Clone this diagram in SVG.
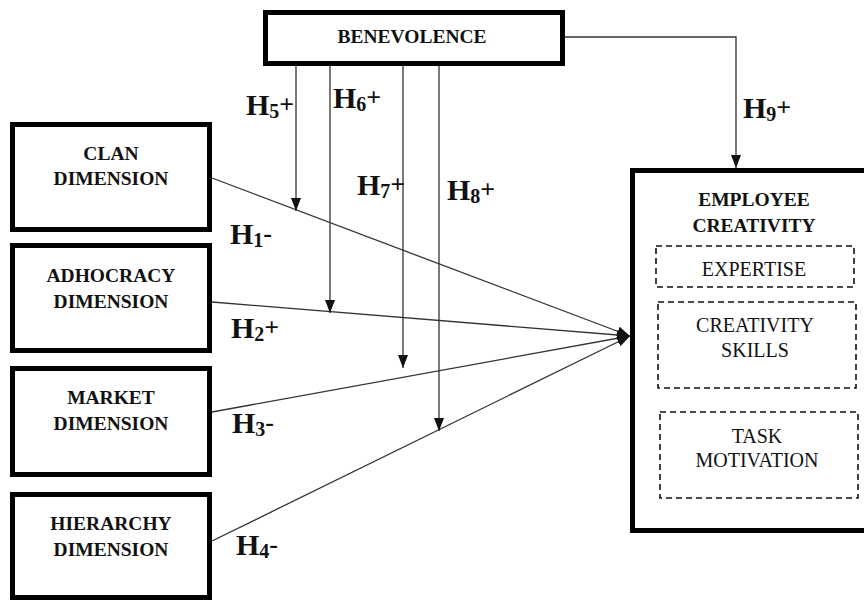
<svg xmlns="http://www.w3.org/2000/svg" width="864" height="601" viewBox="0 0 864 601">
<style>
.box{fill:#fff;stroke:#000;stroke-width:5}
.dash{fill:none;stroke:#111;stroke-width:1.6;stroke-dasharray:6 4}
text{font-family:'Liberation Serif','Times New Roman','DejaVu Serif',serif;fill:#111}
.t{font-weight:bold;font-size:19.5px;text-anchor:middle}
.r{font-size:20px;text-anchor:middle}
.h{font-weight:bold;font-size:30px}
.s{font-size:20px}
.p{font-size:26px}
.c{fill:none;stroke:#333;stroke-width:1.3}
</style>
<defs>
<marker id="ah" markerUnits="userSpaceOnUse" markerWidth="13" markerHeight="10" refX="13" refY="5" orient="auto">
<path d="M0,0 L13,5 L0,10 z" fill="#111"/>
</marker>
</defs>
<rect width="864" height="601" fill="#fff"/>
<g id="connectors">
<line class="c" x1="212" y1="178" x2="630" y2="336" marker-end="url(#ah)"/>
<line class="c" x1="212" y1="302" x2="630" y2="336" marker-end="url(#ah)"/>
<line class="c" x1="212" y1="412" x2="630" y2="336" marker-end="url(#ah)"/>
<line class="c" x1="212" y1="541" x2="630" y2="336" marker-end="url(#ah)"/>
<line class="c" x1="296" y1="64" x2="296" y2="211" marker-end="url(#ah)"/>
<line class="c" x1="330" y1="64" x2="330" y2="313" marker-end="url(#ah)"/>
<line class="c" x1="403" y1="64" x2="403" y2="368" marker-end="url(#ah)"/>
<line class="c" x1="439" y1="64" x2="439" y2="431" marker-end="url(#ah)"/>
<polyline class="c" points="563,37 736,37 736,168" marker-end="url(#ah)"/>
<text class="h" x="246" y="115">H<tspan class="s" dy="3">5</tspan><tspan class="p" dy="-5">+</tspan></text>
<text class="h" x="333" y="108">H<tspan class="s" dy="3">6</tspan><tspan class="p" dy="-5">+</tspan></text>
<text class="h" x="357" y="195">H<tspan class="s" dy="3">7</tspan><tspan class="p" dy="-5">+</tspan></text>
<text class="h" x="447" y="200">H<tspan class="s" dy="3">8</tspan><tspan class="p" dy="-5">+</tspan></text>
<text class="h" x="743" y="118">H<tspan class="s" dy="3">9</tspan><tspan class="p" dy="-5">+</tspan></text>
<text class="h" x="230" y="244">H<tspan class="s" dy="3">1</tspan><tspan class="p" dy="-5">-</tspan></text>
<text class="h" x="231" y="338">H<tspan class="s" dy="3">2</tspan><tspan class="p" dy="-5">+</tspan></text>
<text class="h" x="232" y="433">H<tspan class="s" dy="3">3</tspan><tspan class="p" dy="-5">-</tspan></text>
<text class="h" x="236" y="555">H<tspan class="s" dy="3">4</tspan><tspan class="p" dy="-5">-</tspan></text>
</g>
<g id="benevolence">
<rect class="box" x="265.5" y="12.5" width="297" height="51"/>
<text class="t" x="412" y="43">BENEVOLENCE</text>
</g>
<g id="clan">
<rect class="box" x="12.5" y="124.5" width="197" height="105"/>
<text class="t" x="111" y="160">CLAN</text>
<text class="t" x="111" y="185">DIMENSION</text>
</g>
<g id="adhocracy">
<rect class="box" x="12.5" y="245.5" width="197" height="105"/>
<text class="t" x="111" y="282">ADHOCRACY</text>
<text class="t" x="111" y="308">DIMENSION</text>
</g>
<g id="market">
<rect class="box" x="12.5" y="368.5" width="197" height="106"/>
<text class="t" x="111" y="404">MARKET</text>
<text class="t" x="111" y="430">DIMENSION</text>
</g>
<g id="hierarchy">
<rect class="box" x="12.5" y="494.5" width="197" height="103"/>
<text class="t" x="111" y="530">HIERARCHY</text>
<text class="t" x="111" y="556">DIMENSION</text>
</g>
<g id="employee-creativity">
<rect class="box" x="632.5" y="170.5" width="250" height="360"/>
<text class="t" x="754" y="206">EMPLOYEE</text>
<text class="t" x="754" y="232">CREATIVITY</text>
<rect class="dash" x="656" y="246" width="198" height="41"/>
<text class="r" x="754" y="276">EXPERTISE</text>
<rect class="dash" x="658" y="302" width="198" height="86"/>
<text class="r" x="755" y="332">CREATIVITY</text>
<text class="r" x="755" y="357">SKILLS</text>
<rect class="dash" x="660" y="412" width="198" height="86"/>
<text class="r" x="757" y="443">TASK</text>
<text class="r" x="757" y="467">MOTIVATION</text>
</g>
</svg>
